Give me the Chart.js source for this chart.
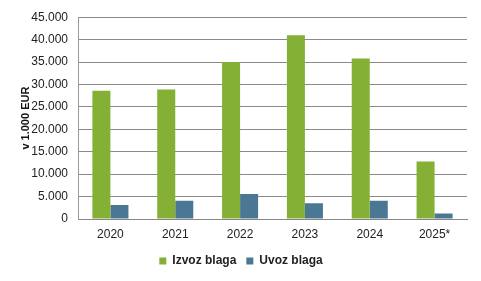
<!DOCTYPE html>
<html>
<head>
<meta charset="utf-8">
<script src="https://cdn.jsdelivr.net/npm/chart.js@4/dist/chart.umd.min.js"></script>
<style>
  html, body { margin: 0; padding: 0; background: #fff; }
  #wrap { width: 481px; height: 281px; }
</style>
</head>
<body>
<div id="wrap"><canvas id="grafikon" width="481" height="281"></canvas></div>
<script>
// podatki (v 1.000 EUR)
const leta = ["2020", "2021", "2022", "2023", "2024", "2025*"];
const izvoz = [28600, 28900, 35000, 41000, 35800, 12800];
const uvoz = [3100, 4050, 5600, 3500, 4050, 1200];

const fmt = (v) => v.toLocaleString("de-DE");

new Chart(document.getElementById("grafikon"), {
  type: "bar",
  data: {
    labels: leta,
    datasets: [
      { label: "Izvoz blaga", data: izvoz, backgroundColor: "#84B135" },
      { label: "Uvoz blaga", data: uvoz, backgroundColor: "#4A7894" }
    ]
  },
  options: {
    responsive: false,
    animation: false,
    devicePixelRatio: 1,
    layout: { padding: { left: 15, right: 14, top: 15, bottom: 4 } },
    datasets: { bar: { categoryPercentage: 0.556, barPercentage: 1 } },
    plugins: {
      tooltip: { enabled: false },
      legend: {
        position: "bottom",
        labels: {
          boxWidth: 7,
          boxHeight: 7,
          color: "#222",
          font: { family: "Liberation Sans, Arial", size: 12, weight: "bold" },
          padding: 10
        }
      }
    },
    scales: {
      x: {
        grid: { display: false, drawTicks: false },
        border: { color: "#888" },
        ticks: { color: "#222", padding: 8, font: { family: "Liberation Sans, Arial", size: 12 } },
        afterFit: (s) => { s.height = 26; }
      },
      y: {
        min: 0,
        max: 45000,
        grid: { color: "#8a8a8a", drawTicks: false },
        border: { color: "#999" },
        ticks: {
          stepSize: 5000,
          padding: 10,
          color: "#222",
          font: { family: "Liberation Sans, Arial", size: 12 },
          callback: (v) => fmt(v)
        },
        title: {
          display: true,
          text: "v 1.000 EUR",
          color: "#111",
          padding: { top: 4, bottom: 0 },
          font: { family: "Liberation Sans, Arial", size: 11, weight: "bold" }
        },
        afterFit: (s) => { s.width = 63; }
      }
    }
  }
});
</script>
</body>
</html>
